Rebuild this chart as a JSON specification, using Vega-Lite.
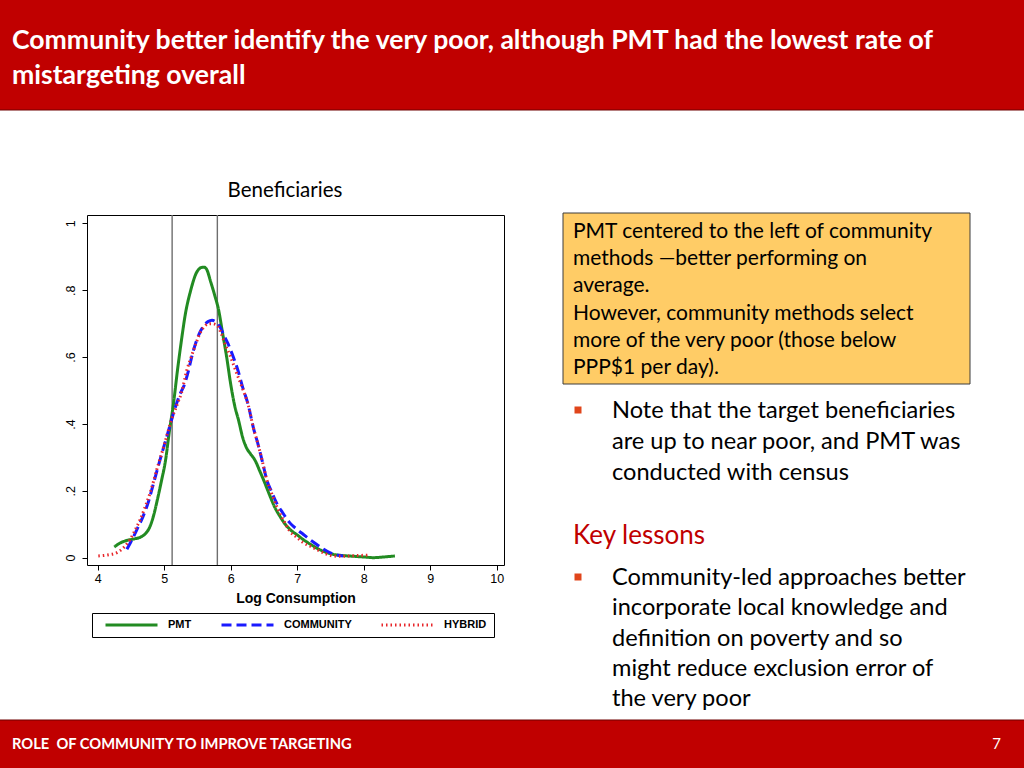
{
  "$schema": "https://vega.github.io/schema/vega-lite/v6.json",
  "width": 417,
  "height": 350,
  "autosize": {"type": "none"},
  "padding": {"left": 87, "top": 215, "right": 520, "bottom": 203},
  "background": "white",
  "config": {
    "view": {"stroke": "#000000", "strokeWidth": 1},
    "axis": {"grid": false, "labelFont": "Liberation Sans", "titleFont": "Liberation Sans", "labelColor": "#000", "titleColor": "#000", "tickColor": "#000"}
  },
  "datasets": {
    "density": [
      {"method": "PMT", "x": 4.25, "y": 0.032}, {"method": "PMT", "x": 4.35, "y": 0.045}, {"method": "PMT", "x": 4.45, "y": 0.052}, {"method": "PMT", "x": 4.55, "y": 0.056}, {"method": "PMT", "x": 4.65, "y": 0.062}, {"method": "PMT", "x": 4.72, "y": 0.072}, {"method": "PMT", "x": 4.78, "y": 0.09}, {"method": "PMT", "x": 4.84, "y": 0.125}, {"method": "PMT", "x": 4.9, "y": 0.175}, {"method": "PMT", "x": 4.96, "y": 0.23}, {"method": "PMT", "x": 5.02, "y": 0.29}, {"method": "PMT", "x": 5.08, "y": 0.38}, {"method": "PMT", "x": 5.14, "y": 0.46}, {"method": "PMT", "x": 5.2, "y": 0.56}, {"method": "PMT", "x": 5.26, "y": 0.65}, {"method": "PMT", "x": 5.32, "y": 0.73}, {"method": "PMT", "x": 5.4, "y": 0.8}, {"method": "PMT", "x": 5.48, "y": 0.85}, {"method": "PMT", "x": 5.56, "y": 0.868}, {"method": "PMT", "x": 5.6, "y": 0.869}, {"method": "PMT", "x": 5.64, "y": 0.862}, {"method": "PMT", "x": 5.7, "y": 0.825}, {"method": "PMT", "x": 5.76, "y": 0.785}, {"method": "PMT", "x": 5.82, "y": 0.74}, {"method": "PMT", "x": 5.88, "y": 0.67}, {"method": "PMT", "x": 5.94, "y": 0.6}, {"method": "PMT", "x": 6.0, "y": 0.52}, {"method": "PMT", "x": 6.06, "y": 0.455}, {"method": "PMT", "x": 6.12, "y": 0.41}, {"method": "PMT", "x": 6.18, "y": 0.36}, {"method": "PMT", "x": 6.24, "y": 0.328}, {"method": "PMT", "x": 6.3, "y": 0.31}, {"method": "PMT", "x": 6.37, "y": 0.29}, {"method": "PMT", "x": 6.44, "y": 0.258}, {"method": "PMT", "x": 6.5, "y": 0.23}, {"method": "PMT", "x": 6.58, "y": 0.19}, {"method": "PMT", "x": 6.66, "y": 0.152}, {"method": "PMT", "x": 6.74, "y": 0.124}, {"method": "PMT", "x": 6.82, "y": 0.1}, {"method": "PMT", "x": 6.9, "y": 0.083}, {"method": "PMT", "x": 7.0, "y": 0.068}, {"method": "PMT", "x": 7.1, "y": 0.053}, {"method": "PMT", "x": 7.2, "y": 0.04}, {"method": "PMT", "x": 7.3, "y": 0.028}, {"method": "PMT", "x": 7.42, "y": 0.017}, {"method": "PMT", "x": 7.54, "y": 0.01}, {"method": "PMT", "x": 7.7, "y": 0.006}, {"method": "PMT", "x": 7.85, "y": 0.004}, {"method": "PMT", "x": 8.0, "y": 0.002}, {"method": "PMT", "x": 8.15, "y": 0.0}, {"method": "PMT", "x": 8.3, "y": 0.002}, {"method": "PMT", "x": 8.47, "y": 0.005},
      {"method": "COMMUNITY", "x": 4.44, "y": 0.025}, {"method": "COMMUNITY", "x": 4.52, "y": 0.055}, {"method": "COMMUNITY", "x": 4.6, "y": 0.088}, {"method": "COMMUNITY", "x": 4.68, "y": 0.122}, {"method": "COMMUNITY", "x": 4.76, "y": 0.165}, {"method": "COMMUNITY", "x": 4.84, "y": 0.222}, {"method": "COMMUNITY", "x": 4.92, "y": 0.28}, {"method": "COMMUNITY", "x": 5.0, "y": 0.335}, {"method": "COMMUNITY", "x": 5.08, "y": 0.39}, {"method": "COMMUNITY", "x": 5.16, "y": 0.445}, {"method": "COMMUNITY", "x": 5.24, "y": 0.49}, {"method": "COMMUNITY", "x": 5.3, "y": 0.515}, {"method": "COMMUNITY", "x": 5.36, "y": 0.555}, {"method": "COMMUNITY", "x": 5.42, "y": 0.605}, {"method": "COMMUNITY", "x": 5.48, "y": 0.645}, {"method": "COMMUNITY", "x": 5.54, "y": 0.675}, {"method": "COMMUNITY", "x": 5.6, "y": 0.695}, {"method": "COMMUNITY", "x": 5.66, "y": 0.706}, {"method": "COMMUNITY", "x": 5.72, "y": 0.71}, {"method": "COMMUNITY", "x": 5.78, "y": 0.705}, {"method": "COMMUNITY", "x": 5.84, "y": 0.69}, {"method": "COMMUNITY", "x": 5.9, "y": 0.665}, {"method": "COMMUNITY", "x": 5.96, "y": 0.64}, {"method": "COMMUNITY", "x": 6.04, "y": 0.6}, {"method": "COMMUNITY", "x": 6.11, "y": 0.56}, {"method": "COMMUNITY", "x": 6.18, "y": 0.51}, {"method": "COMMUNITY", "x": 6.26, "y": 0.46}, {"method": "COMMUNITY", "x": 6.34, "y": 0.39}, {"method": "COMMUNITY", "x": 6.42, "y": 0.333}, {"method": "COMMUNITY", "x": 6.48, "y": 0.285}, {"method": "COMMUNITY", "x": 6.54, "y": 0.235}, {"method": "COMMUNITY", "x": 6.62, "y": 0.195}, {"method": "COMMUNITY", "x": 6.69, "y": 0.164}, {"method": "COMMUNITY", "x": 6.78, "y": 0.135}, {"method": "COMMUNITY", "x": 6.89, "y": 0.104}, {"method": "COMMUNITY", "x": 7.0, "y": 0.084}, {"method": "COMMUNITY", "x": 7.09, "y": 0.07}, {"method": "COMMUNITY", "x": 7.2, "y": 0.053}, {"method": "COMMUNITY", "x": 7.29, "y": 0.04}, {"method": "COMMUNITY", "x": 7.4, "y": 0.025}, {"method": "COMMUNITY", "x": 7.49, "y": 0.015}, {"method": "COMMUNITY", "x": 7.6, "y": 0.008}, {"method": "COMMUNITY", "x": 7.69, "y": 0.005},
      {"method": "HYBRID", "x": 4.01, "y": 0.005}, {"method": "HYBRID", "x": 4.15, "y": 0.008}, {"method": "HYBRID", "x": 4.29, "y": 0.015}, {"method": "HYBRID", "x": 4.4, "y": 0.032}, {"method": "HYBRID", "x": 4.49, "y": 0.055}, {"method": "HYBRID", "x": 4.57, "y": 0.085}, {"method": "HYBRID", "x": 4.64, "y": 0.114}, {"method": "HYBRID", "x": 4.72, "y": 0.155}, {"method": "HYBRID", "x": 4.79, "y": 0.194}, {"method": "HYBRID", "x": 4.89, "y": 0.264}, {"method": "HYBRID", "x": 5.01, "y": 0.343}, {"method": "HYBRID", "x": 5.11, "y": 0.413}, {"method": "HYBRID", "x": 5.2, "y": 0.46}, {"method": "HYBRID", "x": 5.26, "y": 0.493}, {"method": "HYBRID", "x": 5.34, "y": 0.56}, {"method": "HYBRID", "x": 5.41, "y": 0.602}, {"method": "HYBRID", "x": 5.48, "y": 0.642}, {"method": "HYBRID", "x": 5.54, "y": 0.672}, {"method": "HYBRID", "x": 5.6, "y": 0.69}, {"method": "HYBRID", "x": 5.66, "y": 0.699}, {"method": "HYBRID", "x": 5.72, "y": 0.7}, {"method": "HYBRID", "x": 5.79, "y": 0.696}, {"method": "HYBRID", "x": 5.85, "y": 0.675}, {"method": "HYBRID", "x": 5.91, "y": 0.642}, {"method": "HYBRID", "x": 6.0, "y": 0.6}, {"method": "HYBRID", "x": 6.09, "y": 0.552}, {"method": "HYBRID", "x": 6.18, "y": 0.505}, {"method": "HYBRID", "x": 6.26, "y": 0.46}, {"method": "HYBRID", "x": 6.34, "y": 0.39}, {"method": "HYBRID", "x": 6.42, "y": 0.333}, {"method": "HYBRID", "x": 6.48, "y": 0.285}, {"method": "HYBRID", "x": 6.54, "y": 0.235}, {"method": "HYBRID", "x": 6.62, "y": 0.19}, {"method": "HYBRID", "x": 6.7, "y": 0.15}, {"method": "HYBRID", "x": 6.8, "y": 0.11}, {"method": "HYBRID", "x": 6.89, "y": 0.079}, {"method": "HYBRID", "x": 7.0, "y": 0.06}, {"method": "HYBRID", "x": 7.09, "y": 0.045}, {"method": "HYBRID", "x": 7.2, "y": 0.034}, {"method": "HYBRID", "x": 7.29, "y": 0.025}, {"method": "HYBRID", "x": 7.42, "y": 0.012}, {"method": "HYBRID", "x": 7.54, "y": 0.005}, {"method": "HYBRID", "x": 7.7, "y": 0.004}, {"method": "HYBRID", "x": 7.85, "y": 0.006}, {"method": "HYBRID", "x": 8.0, "y": 0.007}, {"method": "HYBRID", "x": 8.1, "y": 0.008}
    ],
    "cutoffs": [{"cutoff": 5.12}, {"cutoff": 5.8}]
  },
  "layer": [
    {
      "data": {"values": [{"part": "header"}]},
      "mark": {"type": "rect", "fill": "#c00000", "stroke": "#6e0000", "strokeWidth": 1.2},
      "encoding": {"x": {"value": -88}, "x2": {"value": 938}, "y": {"value": -216}, "y2": {"value": -105}}
    },
    {
      "data": {"values": [{"part": "footer"}]},
      "mark": {"type": "rect", "fill": "#c00000", "stroke": "#6e0000", "strokeWidth": 1.2},
      "encoding": {"x": {"value": -88}, "x2": {"value": 938}, "y": {"value": 505}, "y2": {"value": 555}}
    },
    {
      "data": {"values": [{"part": "note box"}]},
      "mark": {"type": "rect", "fill": "#ffcc66", "stroke": "#3c3c3c", "strokeWidth": 1},
      "encoding": {"x": {"value": 476}, "x2": {"value": 883}, "y": {"value": -2}, "y2": {"value": 169}}
    },
    {
      "data": {"values": [{"lines": ["Community better identify the very poor, although PMT had the lowest rate of", "mistargeting overall"]}]},
      "mark": {"type": "text", "font": "Lato", "fontWeight": "bold", "fontSize": 26.6, "color": "white", "align": "left", "baseline": "alphabetic", "lineHeight": 35},
      "encoding": {"text": {"field": "lines"}, "x": {"value": -75}, "y": {"value": -166}}
    },
    {
      "data": {"values": [{"lines": "ROLE \u00a0OF COMMUNITY TO IMPROVE TARGETING"}]},
      "mark": {"type": "text", "font": "Lato", "fontWeight": "bold", "fontSize": 14.7, "color": "white", "align": "left", "baseline": "alphabetic"},
      "encoding": {"text": {"field": "lines"}, "x": {"value": -75}, "y": {"value": 534}}
    },
    {
      "data": {"values": [{"lines": "7"}]},
      "mark": {"type": "text", "font": "Lato", "fontSize": 15, "color": "white", "align": "right", "baseline": "alphabetic"},
      "encoding": {"text": {"field": "lines"}, "x": {"value": 914}, "y": {"value": 534}}
    },
    {
      "data": {"values": [{"lines": "Beneficiaries"}]},
      "mark": {"type": "text", "font": "Lato", "fontSize": 20.5, "color": "#000", "align": "center", "baseline": "alphabetic"},
      "encoding": {"text": {"field": "lines"}, "x": {"value": 198}, "y": {"value": -18}}
    },
    {
      "data": {"values": [{"lines": ["PMT centered to the left of community", "methods \u2014better performing on", "average.", "However, community methods select", "more of the very poor (those below", "PPP$1 per day)."]}]},
      "mark": {"type": "text", "font": "Lato", "fontSize": 21, "color": "#000", "align": "left", "baseline": "alphabetic", "lineHeight": 27.2},
      "encoding": {"text": {"field": "lines"}, "x": {"value": 486}, "y": {"value": 23}}
    },
    {
      "data": {"values": [{"lines": ["Note that the target beneficiaries", "are up to near poor, and PMT was", "conducted with census"]}]},
      "mark": {"type": "text", "font": "Lato", "fontSize": 23.6, "color": "#000", "align": "left", "baseline": "alphabetic", "lineHeight": 31},
      "encoding": {"text": {"field": "lines"}, "x": {"value": 525}, "y": {"value": 203}}
    },
    {
      "data": {"values": [{"lines": "Key lessons"}]},
      "mark": {"type": "text", "font": "Lato", "fontSize": 26, "color": "#c00000", "align": "left", "baseline": "alphabetic"},
      "encoding": {"text": {"field": "lines"}, "x": {"value": 486}, "y": {"value": 329}}
    },
    {
      "data": {"values": [{"lines": ["Community-led approaches better", "incorporate local knowledge and", "definition on poverty and so", "might reduce exclusion error of", "the very poor"]}]},
      "mark": {"type": "text", "font": "Lato", "fontSize": 23.6, "color": "#000", "align": "left", "baseline": "alphabetic", "lineHeight": 30.3},
      "encoding": {"text": {"field": "lines"}, "x": {"value": 525}, "y": {"value": 370}}
    },
    {
      "data": {"values": [{"bullet": 1}]},
      "mark": {"type": "square", "size": 49, "fill": "#e0451b", "opacity": 1, "strokeWidth": 0},
      "encoding": {"x": {"value": 491}, "y": {"value": 195}}
    },
    {
      "data": {"values": [{"bullet": 2}]},
      "mark": {"type": "square", "size": 49, "fill": "#e0451b", "opacity": 1, "strokeWidth": 0},
      "encoding": {"x": {"value": 491}, "y": {"value": 362}}
    },
    {
      "data": {"name": "cutoffs"},
      "mark": {"type": "rule", "color": "#6e6e6e", "strokeWidth": 1.4},
      "encoding": {"x": {"field": "cutoff", "type": "quantitative", "scale": {"domain": [3.84, 10.11], "nice": false, "zero": false}}}
    },
    {
      "data": {"name": "density"},
      "mark": {"type": "line", "interpolate": "monotone", "clip": true},
      "encoding": {
        "x": {"field": "x", "type": "quantitative", "scale": {"domain": [3.84, 10.11], "nice": false, "zero": false},
              "axis": {"values": [4, 5, 6, 7, 8, 9, 10], "format": "d", "domain": false, "tickSize": 5, "labelFontSize": 12.5, "labelPadding": 2, "title": "Log Consumption", "titleFontSize": 14, "titleFontWeight": "bold", "titlePadding": 7}},
        "y": {"field": "y", "type": "quantitative", "scale": {"domain": [-0.022, 1.025], "nice": false, "zero": false},
              "axis": {"values": [0, 0.2, 0.4, 0.6, 0.8, 1], "domain": false, "tickSize": 5, "labelFontSize": 12.5, "labelAngle": -90, "labelAlign": "center", "labelBaseline": "bottom", "labelPadding": 5, "title": null,
                       "labelExpr": "datum.value == 0 ? '0' : datum.value == 1 ? '1' : '.' + format(datum.value * 10, 'd')"}},
        "color": {"field": "method", "type": "nominal", "scale": {"domain": ["PMT", "COMMUNITY", "HYBRID"], "range": ["#228b22", "#1a1aff", "#e8262b"]},
                  "legend": {"title": null, "orient": "none", "legendX": 5, "legendY": 398, "direction": "horizontal", "strokeColor": "#000", "padding": 7, "clipHeight": 10, "symbolType": "stroke", "symbolSize": 2704, "symbolOffset": 5, "labelFont": "Liberation Sans", "labelFontSize": 11, "labelFontWeight": "bold", "labelColor": "#000", "labelOffset": 9, "columnPadding": 23}},
        "strokeDash": {"field": "method", "type": "nominal", "scale": {"domain": ["PMT", "COMMUNITY", "HYBRID"], "range": [[1, 0], [10, 5], [1.5, 3]]}},
        "strokeWidth": {"field": "method", "type": "nominal", "scale": {"domain": ["PMT", "COMMUNITY", "HYBRID"], "range": [3, 3, 1.6]}}
      }
    }
  ]
}
